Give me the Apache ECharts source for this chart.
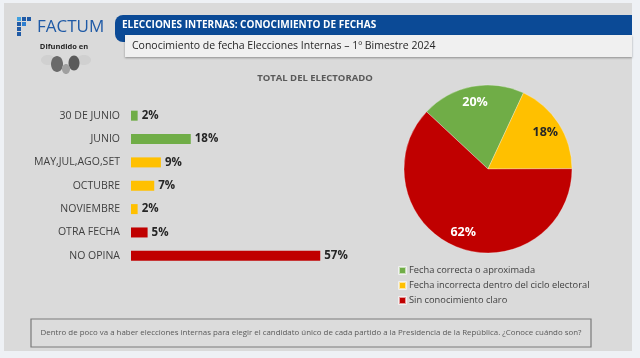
<!DOCTYPE html>
<html>
<head>
<meta charset="utf-8">
<script src="https://cdn.jsdelivr.net/npm/echarts@6/dist/echarts.min.js"></script>
<style>
html,body{margin:0;padding:0;background:#eef1f5;}
#c{width:640px;height:358px;}
</style>
</head>
<body>
<div id="c"></div>
<script>
// Data
const categories = ['30 DE JUNIO','JUNIO','MAY,JUL,AGO,SET','OCTUBRE','NOVIEMBRE','OTRA FECHA','NO OPINA'];
const barValues = [2, 18, 9, 7, 2, 5, 57];
const barGroups = ['ok','ok','inc','inc','inc','none','none'];
const pieNames = ['Fecha correcta o aproximada','Fecha incorrecta dentro del ciclo electoral','Sin conocimiento claro'];
const pieValues = [20, 18, 62];
const titleText = 'ELECCIONES INTERNAS: CONOCIMIENTO DE FECHAS';
const subtitleText = 'Conocimiento de fecha Elecciones Internas – 1º Bimestre 2024';
const chartTitle = 'TOTAL DEL ELECTORADO';
const questionText = 'Dentro de poco va a haber elecciones internas para elegir el candidato único de cada partido a la Presidencia de la República. ¿Conoce cuándo son?';

const groupColors = {ok:'#70ad47', inc:'#ffc000', none:'#c00000'};
const pieColors = ['#70ad47','#ffc000','#c00000'];
const pieLabelColors = ['#ffffff','#262626','#ffffff'];
const FONT = '"Open Sans", "Noto Sans", sans-serif';

const chart = echarts.init(document.getElementById('c'), null, {renderer:'canvas'});

const iconSquares = [
  [17,17,'#3fa0e0'],[22,17,'#1f5aa6'],[27,17,'#1f5aa6'],
  [17,22,'#1f5aa6'],[22,22,'#2f7fd0'],
  [17,27,'#1f5aa6'],[17,32,'#1f5aa6']
];

const graphics = [
  {type:'rect', shape:{x:4,y:3,width:628,height:348}, style:{fill:'#dadada'}, z:-10},
  // header blue
  {type:'rect', shape:{x:115,y:15,width:517,height:27,r:[8,0,0,8]}, style:{fill:'#0b4a96'}, z:1},
  {type:'rect', shape:{x:125,y:35,width:507,height:22}, style:{fill:'#f0f0f0', shadowColor:'rgba(0,0,0,0.35)', shadowBlur:2, shadowOffsetY:1}, z:2},
  {type:'text', x:122, y:25, style:{text:titleText, fill:'#ffffff', font:'bold 10px '+FONT, verticalAlign:'middle'}, z:3},
  {type:'text', x:132, y:46, style:{text:subtitleText, fill:'#262626', font:'10.5px '+FONT, verticalAlign:'middle'}, z:3},
  // logo
  {type:'text', x:37, y:27, style:{text:'FACTUM', fill:'#1f5aa6', font:'17px '+FONT, verticalAlign:'middle'}, z:3},
  {type:'text', x:64, y:47, style:{text:'Difundido en', fill:'#262626', font:'bold 7.5px '+FONT, align:'center', verticalAlign:'middle'}, z:3},
  {type:'ellipse', shape:{cx:48,cy:60,rx:7,ry:5}, style:{fill:'#d0d0d0'}, z:2},
  {type:'ellipse', shape:{cx:84,cy:60,rx:7,ry:5}, style:{fill:'#d0d0d0'}, z:2},
  {type:'ellipse', shape:{cx:57,cy:64,rx:6,ry:8}, style:{fill:'#6a6a6a'}, z:3},
  {type:'ellipse', shape:{cx:74,cy:63,rx:5.5,ry:7.5}, style:{fill:'#5a5a5a'}, z:3},
  {type:'ellipse', shape:{cx:66,cy:69,rx:4,ry:5}, style:{fill:'#a0a0a0'}, z:3},
  // chart title
  {type:'text', x:315, y:78, style:{text:chartTitle, fill:'#595959', font:'bold 9.5px '+FONT, align:'center', verticalAlign:'middle'}, z:3},
  // question box
  {type:'rect', shape:{x:31,y:319,width:560,height:28}, style:{fill:'#dcdcdc', stroke:'#7a7a7a', lineWidth:1.2}, z:3},
  {type:'text', x:311, y:333, style:{text:questionText, fill:'#595959', font:'7.9px '+FONT, align:'center', verticalAlign:'middle'}, z:4}
];
iconSquares.forEach(s => graphics.push({type:'rect', shape:{x:s[0],y:s[1],width:4,height:4}, style:{fill:s[2]}, z:3}));

const option = {
  animation:false,
  backgroundColor:'transparent',
  textStyle:{fontFamily:FONT},
  graphic: graphics,
  grid:{left:131, top:104, width:332, height:163.5, containLabel:false},
  xAxis:{type:'value', min:0, max:100, show:false},
  yAxis:{type:'category', data:categories, inverse:true,
    axisLine:{show:false}, axisTick:{show:false}, splitLine:{show:false},
    axisLabel:{color:'#404040', fontSize:10.5, margin:11, fontFamily:FONT}},
  legend:{orient:'vertical', left:393, top:261, itemWidth:7, itemHeight:7, itemGap:6,
    icon:'rect', data:pieNames, selectedMode:false,
    textStyle:{color:'#404040', fontSize:9.3, fontFamily:FONT, padding:[0,0,0,-2]}},
  series:[
    {type:'bar', barWidth:10, z:5,
      data: barValues.map((v,i)=>({value:v, itemStyle:{color:groupColors[barGroups[i]]}})),
      label:{show:true, position:'right', distance:4, formatter:'{c}%', color:'#262626', fontWeight:'bold', fontSize:11.5, fontFamily:FONT}},
    {type:'pie', name:'pie', center:[488,169], radius:[0,84], startAngle:137, clockwise:true,
      data: pieNames.map((n,i)=>({name:n, value:pieValues[i], itemStyle:{color:pieColors[i]}})),
      itemStyle:{borderColor:'rgba(255,255,255,0.6)', borderWidth:0.5},
      label:{show:false}, labelLine:{show:false}, silent:true},
    {type:'pie', name:'pieLabels', center:[488,169], radius:[46,84], startAngle:137, clockwise:true,
      data: pieNames.map((n,i)=>({name:n, value:pieValues[i], itemStyle:{color:'rgba(0,0,0,0)'},
        label:{color:pieLabelColors[i]}})),
      label:{show:true, position:'inside', formatter:'{c}%', fontWeight:'bold', fontSize:12.5, fontFamily:FONT},
      labelLine:{show:false}, silent:true, z:10, legendHoverLink:false}
  ]
};
chart.setOption(option);
</script>
</body>
</html>
